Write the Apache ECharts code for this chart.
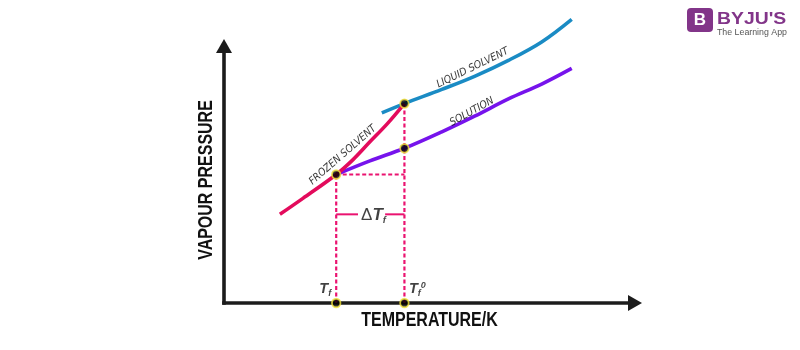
<!DOCTYPE html>
<html>
<head>
<meta charset="utf-8">
<script src="https://cdn.jsdelivr.net/npm/echarts@6/dist/echarts.min.js"></script>
<style>
  html, body { margin: 0; padding: 0; background: #fff; }
  #chart { width: 800px; height: 350px; }
</style>
</head>
<body>
<div id="chart"></div>
<script>
// Freezing-point depression: vapour pressure vs temperature (arbitrary units 0-100)
const frozenSolvent = [[13.6, 34.5], [19.2, 40.7], [27.3, 50.0], [31.4, 55.8], [35.5, 62.7], [39.7, 69.7], [43.9, 77.6]];
const liquidSolvent = [[38.4, 74.0], [43.9, 77.6], [53.0, 83.1], [61.1, 88.3], [69.2, 94.4], [77.3, 101.6], [84.6, 110.4]];
const solution = [[27.3, 50.0], [35.5, 55.3], [43.9, 60.2], [53.0, 66.6], [61.1, 72.8], [69.2, 79.4], [77.3, 85.2], [84.6, 91.3]];

const Tf = 27.3;        // freezing point of the solution
const Tf0 = 43.9;       // freezing point of the pure solvent
const pSolution = 50.0; // vapour pressure where solution meets frozen solvent
const pSolvent = 77.6;  // vapour pressure where liquid meets frozen solvent
const pSolAtTf0 = 60.2; // solution vapour pressure at Tf0
const deltaLevel = 34.5;
const deltaGap = [32.6, 39.2];

const curveLabels = [
  { name: 'LIQUID SOLVENT', value: [60.5, 91.5], rotate: 26 },
  { name: 'SOLUTION', value: [60.3, 74.4], rotate: 29 },
  { name: 'FROZEN SOLVENT', value: [28.9, 57.6], rotate: 41 }
];

const xTitle = 'TEMPERATURE/K';
const yTitle = 'VAPOUR PRESSURE';

const CRIMSON = '#e30b5c';
const DOTTED = '#ea1370';
const BLUE = '#1a8bc4';
const PURPLE = '#7613ec';
const AXIS = '#1c1c1c';
const NARROW = "'DejaVu Sans Condensed', 'Liberation Sans', sans-serif";
const TITLE_FONT = 'bold 19.5px "Liberation Sans", Arial, sans-serif';

const chart = echarts.init(document.getElementById('chart'), null, { renderer: 'canvas' });

const dashed = { color: DOTTED, width: 2.2, type: [4, 2.5] };

function guide(data) {
  return {
    type: 'line', data: data, symbol: 'none', silent: true, clip: false,
    lineStyle: dashed, z: 2
  };
}

function curve(name, data, color, z) {
  return {
    name: name, type: 'line', data: data, smooth: 0.35,
    symbol: 'none', clip: false, lineStyle: { color: color, width: 3.6 }, z: z
  };
}

const subStyle = { fontFamily: 'Liberation Sans', fontWeight: 'bold', fontStyle: 'italic', color: '#111' };

const option = {
  animation: false,
  backgroundColor: '#fff',
  grid: { left: 224, top: 46, width: 411, height: 257 },
  xAxis: {
    type: 'value', min: 0, max: 100,
    axisLine: { show: true, symbol: ['none', 'triangle'], symbolSize: [16, 14],
      lineStyle: { color: AXIS, width: 3.6, cap: 'square' } },
    axisTick: { show: false }, axisLabel: { show: false }, splitLine: { show: false }
  },
  yAxis: {
    type: 'value', min: 0, max: 100,
    axisLine: { show: true, symbol: ['none', 'triangle'], symbolSize: [16, 14],
      lineStyle: { color: AXIS, width: 3.6, cap: 'square' } },
    axisTick: { show: false }, axisLabel: { show: false }, splitLine: { show: false }
  },
  series: [
    guide([[Tf, 0], [Tf, pSolution]]),
    guide([[Tf0, 0], [Tf0, pSolvent]]),
    guide([[Tf, pSolution], [Tf0, pSolution]]),
    // ΔTf bracket
    {
      type: 'line', data: [[Tf, deltaLevel], [deltaGap[0], deltaLevel]], symbol: 'none', silent: true,
      lineStyle: { color: DOTTED, width: 2 }, z: 2
    },
    {
      type: 'line', data: [[deltaGap[1], deltaLevel], [Tf0, deltaLevel]], symbol: 'none', silent: true,
      lineStyle: { color: DOTTED, width: 2 }, z: 2
    },
    curve('Liquid solvent', liquidSolvent, BLUE, 3),
    curve('Solution', solution, PURPLE, 3),
    curve('Frozen solvent', frozenSolvent, CRIMSON, 4),
    // intersection markers
    {
      type: 'scatter', symbol: 'circle', symbolSize: 8.5, clip: false, z: 6,
      itemStyle: { color: '#000', borderColor: '#f3e43c', borderWidth: 1.8 },
      data: [[Tf, pSolution], [Tf0, pSolvent], [Tf0, pSolAtTf0], [Tf, 0], [Tf0, 0]]
    },
    // curve names
    {
      type: 'scatter', symbolSize: 0, clip: false, z: 7, silent: true,
      data: curveLabels.map(d => ({
        name: d.name, value: d.value,
        label: { show: true, position: 'inside', rotate: d.rotate, formatter: d.name,
          fontFamily: NARROW, fontStyle: 'italic', fontSize: 10.5, color: '#000' }
      }))
    },
    // temperature markers and ΔTf
    {
      type: 'scatter', symbolSize: 0, clip: false, z: 7, silent: true,
      data: [
        { value: [Tf, 0], label: { show: true, position: 'inside', offset: [-11, -14],
          formatter: '{t|T}{s|f}' } },
        { value: [Tf0, 0], label: { show: true, position: 'inside', offset: [13, -14],
          formatter: '{t|T}{s|f}{p|0}' } },
        { value: [(deltaGap[0] + deltaGap[1]) / 2, deltaLevel], label: { show: true, position: 'inside',
          offset: [2, 1], formatter: '{d|Δ}{t2|T}{s2|f}' } }
      ],
      label: {
        color: '#111',
        rich: {
          t: Object.assign({ fontSize: 14.5 }, subStyle),
          s: Object.assign({ fontSize: 9, padding: [9, 0, 0, 0] }, subStyle),
          p: Object.assign({ fontSize: 9, padding: [0, 0, 6, 0] }, subStyle),
          d: { fontFamily: 'Liberation Sans', fontSize: 17, color: '#111' },
          t2: Object.assign({ fontSize: 17 }, subStyle),
          s2: Object.assign({ fontSize: 9.5, padding: [10, 0, 0, 0] }, subStyle)
        }
      }
    }
  ],
  graphic: [
    // axis titles
    { type: 'text', x: 429.5, y: 321, scaleX: 0.82, silent: true,
      style: { text: xTitle, fill: '#111', font: TITLE_FONT, align: 'center', verticalAlign: 'middle' } },
    { type: 'text', x: 207, y: 180, rotation: Math.PI / 2, scaleX: 0.82, silent: true,
      style: { text: yTitle, fill: '#111', font: TITLE_FONT, align: 'center', verticalAlign: 'middle' } },
    // brand mark, top right
    { type: 'rect', x: 687, y: 8, shape: { width: 26, height: 24, r: 4 }, style: { fill: '#823589' } },
    { type: 'text', x: 700, y: 20.5, style: { text: 'B', fill: '#fff', font: 'bold 17px "Liberation Sans", sans-serif', align: 'center', verticalAlign: 'middle' } },
    { type: 'text', x: 717, y: 19.5, scaleX: 1.14, style: { text: "BYJU'S", fill: '#823589', font: 'bold 17px "Liberation Sans", sans-serif', align: 'left', verticalAlign: 'middle' } },
    { type: 'text', x: 717, y: 33, style: { text: 'The Learning App', fill: '#555', font: '8.8px "Liberation Sans", sans-serif', align: 'left', verticalAlign: 'middle' } }
  ]
};

chart.setOption(option);
</script>
</body>
</html>
